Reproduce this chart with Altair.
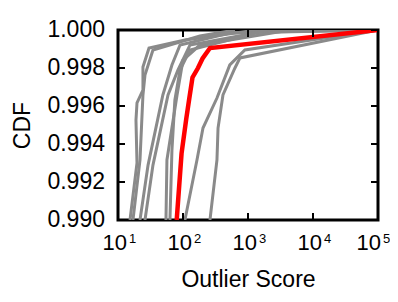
import altair as alt
import pandas as pd

# ---- data ----
red_x = [80, 95, 112, 125, 140, 170, 200, 260, 100000]
red_y = [0.990, 0.9935, 0.9953, 0.9964, 0.9975, 0.998, 0.9985, 0.99905, 1.0]

ga_x = [15.3, 19.6, 18.9, 19.6, 24.2, 24.2, 30, 107, 1070, 100000]
ga_y = [0.990, 0.993, 0.99526, 0.99616, 0.99684, 0.99805, 0.99905, 0.99947, 0.99995, 1.0]
gb_x = [17, 21.8, 24.2, 26, 34.5, 182, 630]
gb_y = [0.990, 0.99316, 0.99658, 0.99763, 0.99895, 0.99968, 1.0]
gc_x = [21.8, 29, 49, 67.6, 90, 525, 100000]
gc_y = [0.990, 0.99289, 0.99658, 0.99816, 0.99921, 0.99984, 1.0]
gd_x = [26, 34.5, 58.8, 83.5, 128, 1530, 100000]
gd_y = [0.990, 0.99289, 0.99658, 0.99789, 0.99921, 0.9999, 1.0]
ge_x = [54.7, 56.6, 81, 100, 182, 4430]
ge_y = [0.990, 0.99316, 0.99658, 0.99842, 0.99921, 1.0]
gf_x = [63, 67.6, 75, 90, 128, 2000]
gf_y = [0.990, 0.99368, 0.99632, 0.99789, 0.99895, 1.0]
gg_x = [107, 164, 203, 333, 525, 895, 100000]
gg_y = [0.990, 0.99316, 0.99484, 0.99642, 0.99816, 0.99895, 1.0]
gh_x = [260, 333, 346, 412, 630, 753, 100000]
gh_y = [0.990, 0.99316, 0.99484, 0.99658, 0.998, 0.99853, 1.0]

gray_series = {
    "a": (ga_x, ga_y), "b": (gb_x, gb_y), "c": (gc_x, gc_y), "d": (gd_x, gd_y),
    "e": (ge_x, ge_y), "f": (gf_x, gf_y), "g": (gg_x, gg_y), "h": (gh_x, gh_y),
}

x_ticks = [10, 100, 1000, 10000, 100000]
x_exponents = ["1", "2", "3", "4", "5"]
y_ticks = [0.990, 0.992, 0.994, 0.996, 0.998, 1.000]
y_labels = ["0.990", "0.992", "0.994", "0.996", "0.998", "1.000"]

# ---- build tables ----
rows = []
for name, (xs, ys) in gray_series.items():
    for i, (xv, yv) in enumerate(zip(xs, ys)):
        rows.append({"series": name, "order": i, "x": xv, "y": yv})
gray_df = pd.DataFrame(rows)
red_df = pd.DataFrame({"x": red_x, "y": red_y, "order": list(range(len(red_x)))})
xt_df = pd.DataFrame({"v": x_ticks, "base": ["10"] * len(x_ticks), "exp": x_exponents,
                      "last": [v == x_ticks[-1] for v in x_ticks]})
yt_df = pd.DataFrame({"v": y_ticks, "lab": y_labels})

W, H = 260, 190
FONT = "Liberation Sans"

xscale = alt.Scale(type="log", domain=[10, 100000], nice=False)
yscale = alt.Scale(domain=[0.990, 1.000], nice=False, zero=False)

xaxis = alt.Axis(
    values=x_ticks, tickSize=0, domain=False, grid=False, labels=False,
    title="Outlier Score", titleFont=FONT, titleFontSize=23,
    titleFontWeight="normal", titleColor="black", titlePadding=48,
)
yaxis = alt.Axis(
    values=y_ticks, tickSize=0, domain=False, grid=False, labels=False,
    title="CDF", titleFont=FONT, titleFontSize=23,
    titleFontWeight="normal", titleColor="black", titlePadding=83,
)

gray = alt.Chart(gray_df).mark_line(color="#8a8a8a", strokeWidth=3, clip=True).encode(
    x=alt.X("x:Q", scale=xscale, axis=xaxis),
    y=alt.Y("y:Q", scale=yscale, axis=yaxis),
    detail="series:N",
    order="order:Q",
)
red = alt.Chart(red_df).mark_line(color="#ff0000", strokeWidth=4.5, clip=True).encode(
    x=alt.X("x:Q", scale=xscale),
    y=alt.Y("y:Q", scale=yscale),
    order="order:Q",
)

TL = 7
xt_bot = alt.Chart(xt_df).mark_rule(color="black", strokeWidth=2).encode(
    x=alt.X("v:Q", scale=xscale), y=alt.value(H), y2=alt.value(H - TL))
xt_top = alt.Chart(xt_df).mark_rule(color="black", strokeWidth=2).encode(
    x=alt.X("v:Q", scale=xscale), y=alt.value(0), y2=alt.value(TL))
yt_left = alt.Chart(yt_df).mark_rule(color="black", strokeWidth=2).encode(
    y=alt.Y("v:Q", scale=yscale), x=alt.value(0), x2=alt.value(TL))
yt_right = alt.Chart(yt_df).mark_rule(color="black", strokeWidth=2).encode(
    y=alt.Y("v:Q", scale=yscale), x=alt.value(W - TL), x2=alt.value(W))

ylab = alt.Chart(yt_df).mark_text(
    font=FONT, fontSize=23, color="black", align="right", baseline="middle"
).encode(y=alt.Y("v:Q", scale=yscale), x=alt.value(-13), text="lab:N")


def labels(shift, cond):
    base = alt.Chart(xt_df).transform_filter(cond).mark_text(
        font=FONT, fontSize=22, color="black", align="right", baseline="alphabetic", dx=9 + shift
    ).encode(x=alt.X("v:Q", scale=xscale), y=alt.value(H + 30), text="base:N")
    exp = alt.Chart(xt_df).transform_filter(cond).mark_text(
        font=FONT, fontSize=13, color="black", align="left", baseline="alphabetic", dx=11 + shift
    ).encode(x=alt.X("v:Q", scale=xscale), y=alt.value(H + 23), text="exp:N")
    return [base, exp]


lab_layers = labels(0, "!datum.last") + labels(-6, "datum.last")

chart = alt.layer(gray, red, xt_bot, xt_top, yt_left, yt_right, ylab, *lab_layers).properties(
    width=W, height=H,
    background="white",
    autosize=alt.AutoSizeParams(type="none"),
    padding={"left": 110, "top": 22, "right": 12, "bottom": 74},
).configure_view(
    stroke="black", strokeWidth=3
)

chart.save("out.html", embed_options={"renderer": "svg", "actions": False})
